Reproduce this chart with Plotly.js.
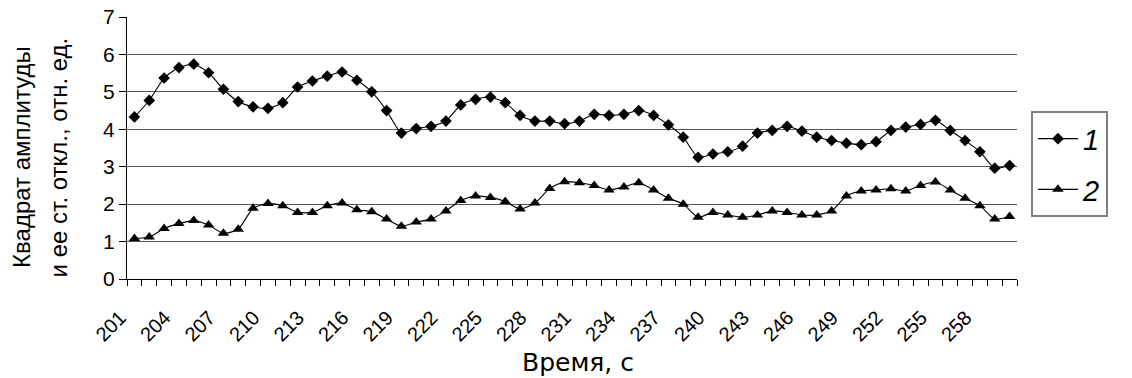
<!DOCTYPE html>
<html>
<head>
<meta charset="utf-8">
<script src="https://cdn.plot.ly/plotly-3.0.1.min.js"></script>
<style>html,body{margin:0;padding:0;background:#fff;}#chart{width:1132px;height:378px;}</style>
</head>
<body>
<div id="chart"></div>
<script>
const times = [201,202,203,204,205,206,207,208,209,210,211,212,213,214,215,216,217,218,219,220,
  221,222,223,224,225,226,227,228,229,230,231,232,233,234,235,236,237,238,239,240,
  241,242,243,244,245,246,247,248,249,250,251,252,253,254,255,256,257,258,259,260];
const series1 = [4.33,4.77,5.37,5.65,5.74,5.51,5.07,4.74,4.60,4.56,4.71,5.13,5.29,5.42,5.53,5.31,
  5.00,4.50,3.90,4.02,4.08,4.22,4.65,4.80,4.86,4.71,4.37,4.22,4.22,4.15,4.22,4.40,4.37,4.40,4.50,4.37,4.12,3.79,
  3.25,3.34,3.40,3.55,3.90,3.97,4.08,3.95,3.79,3.70,3.63,3.59,3.67,3.97,4.06,4.13,4.24,3.97,3.70,3.40,2.96,3.03];
const series2 = [1.08,1.12,1.35,1.48,1.56,1.44,1.22,1.33,1.89,2.02,1.96,1.78,1.78,1.96,2.03,1.85,
  1.80,1.60,1.41,1.52,1.60,1.82,2.10,2.22,2.18,2.07,1.87,2.03,2.42,2.60,2.57,2.50,2.38,2.46,2.57,2.38,2.16,2.00,
  1.65,1.78,1.71,1.65,1.71,1.82,1.78,1.71,1.71,1.82,2.22,2.35,2.38,2.41,2.35,2.50,2.59,2.38,2.16,1.96,1.60,1.67];
const tickLabels = ['201','204','207','210','213','216','219','222','225','228','231','234','237','240','243','246','249','252','255','258'];
const seriesNames = ['1','2'];
const yTitleLines = ['Квадрат амплитуды', 'и ее ст. откл., отн. ед.'];
const xTitle = 'Время, с';

const traces = [
  {x: times, y: series1, name: seriesNames[0], legendgroup: 'g1', type: 'scatter', mode: 'lines+markers',
   line: {color: '#000', width: 1.1, shape: 'spline', smoothing: 0.6},
   marker: {symbol: 'diamond', size: 9, color: '#000'}},
  {x: times, y: series2, name: seriesNames[1], legendgroup: 'g2', type: 'scatter', mode: 'lines+markers',
   line: {color: '#000', width: 1.1, shape: 'spline', smoothing: 0.6},
   marker: {symbol: 'triangle-up', size: 10, color: '#000'}}
];

const layout = {
  width: 1132, height: 378,
  margin: {l: 127, r: 115, t: 17, b: 99},
  paper_bgcolor: '#fff', plot_bgcolor: '#fff',
  font: {family: 'Liberation Sans, Arial, sans-serif', color: '#000', size: 20},
  showlegend: true,
  legend: {x: 1.0157, y: 0.64, xanchor: 'left', yanchor: 'top',
    bordercolor: '#808080', borderwidth: 2, bgcolor: '#fff',
    font: {family: 'Liberation Sans, Arial, sans-serif', size: 29, style: 'italic', color: '#000'},
    traceorder: 'grouped', tracegroupgap: 10, itemwidth: 40},
  xaxis: {
    type: 'linear', range: [200.5, 260.5],
    tickmode: 'array', tickvals: tickLabels.map(Number), ticktext: tickLabels,
    tickangle: -45, ticks: '', tickfont: {size: 20},
    ticklabelshift: -14, ticklabelstandoff: 18,
    showline: true, linecolor: '#000', linewidth: 1,
    showgrid: false, zeroline: false,
    minor: {tick0: 200.5, dtick: 1, ticks: 'outside', ticklen: 6, tickcolor: '#000', tickwidth: 1, showgrid: false}
  },
  yaxis: {
    range: [0, 7], dtick: 1, tick0: 0,
    ticks: 'outside', ticklen: 7, tickcolor: '#000',
    showline: true, linecolor: '#000', linewidth: 1,
    showgrid: true, gridcolor: '#555', gridwidth: 1, zeroline: false,
    tickfont: {size: 21}
  },
  annotations: [
    {text: yTitleLines[0], textangle: -90, xref: 'paper', yref: 'paper', x: -0.118, y: 0.466,
     xanchor: 'center', yanchor: 'middle', showarrow: false, font: {size: 24}},
    {text: yTitleLines[1], textangle: -90, xref: 'paper', yref: 'paper', x: -0.077, y: 0.466,
     xanchor: 'center', yanchor: 'middle', showarrow: false, font: {size: 24}},
    {text: xTitle, xref: 'paper', yref: 'paper', x: 0.507, y: -0.318,
     xanchor: 'center', yanchor: 'middle', showarrow: false, font: {family: 'DejaVu Sans, sans-serif', size: 25}}
  ]
};

Plotly.newPlot('chart', traces, layout, {staticPlot: true});
</script>
</body>
</html>
